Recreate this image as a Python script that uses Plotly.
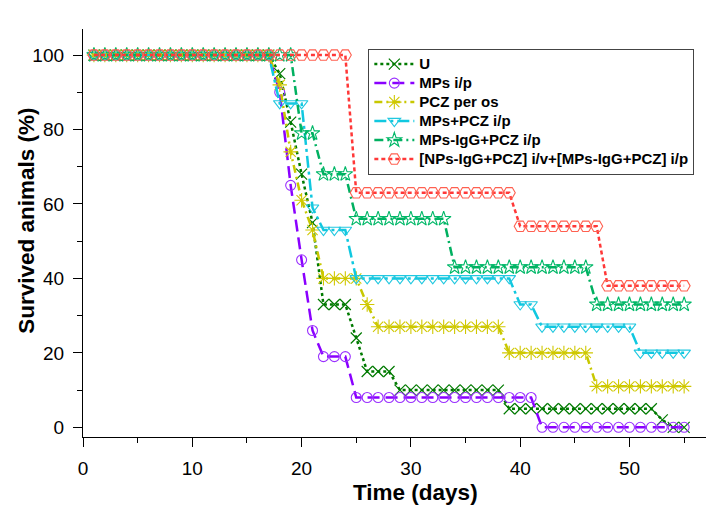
import plotly.graph_objects as go

days = list(range(1, 56))

u_vals = [100, 100, 100, 100, 100, 100, 100, 100, 100, 100, 100, 100, 100, 100, 100, 100, 100,
          95, 82, 68, 55, 33, 33, 33, 24, 15, 15, 15,
          10, 10, 10, 10, 10, 10, 10, 10, 10, 10,
          5, 5, 5, 5, 5, 5, 5, 5, 5, 5, 5, 5, 5, 5,
          2, 0, 0]
mps_vals = [100, 100, 100, 100, 100, 100, 100, 100, 100, 100, 100, 100, 100, 100, 100, 100, 100,
            90, 65, 45, 26, 19, 19, 19,
            8, 8, 8, 8, 8, 8, 8, 8, 8, 8, 8, 8, 8, 8, 8, 8, 8,
            0, 0, 0, 0, 0, 0, 0, 0, 0, 0, 0, 0, 0, 0]
pcz_vals = [100, 100, 100, 100, 100, 100, 100, 100, 100, 100, 100, 100, 100, 100, 100, 100, 100,
            92, 74, 61, 53, 40, 40, 40, 40, 33,
            27, 27, 27, 27, 27, 27, 27, 27, 27, 27, 27, 27,
            20, 20, 20, 20, 20, 20, 20, 20,
            11, 11, 11, 11, 11, 11, 11, 11, 11]
mps_pcz_vals = [100, 100, 100, 100, 100, 100, 100, 100, 100, 100, 100, 100, 100, 100, 100, 100, 100,
                87, 87, 87, 59, 53, 53, 53,
                40, 40, 40, 40, 40, 40, 40, 40, 40, 40, 40, 40, 40, 40, 40,
                33, 33,
                27, 27, 27, 27, 27, 27, 27, 27, 27,
                20, 20, 20, 20, 20]
mps_igg_vals = [100, 100, 100, 100, 100, 100, 100, 100, 100, 100, 100, 100, 100, 100, 100, 100, 100, 100, 100,
                79, 79, 68, 68, 68,
                56, 56, 56, 56, 56, 56, 56, 56, 56,
                43, 43, 43, 43, 43, 43, 43, 43, 43, 43, 43, 43, 43,
                33, 33, 33, 33, 33, 33, 33, 33, 33]
nps_vals = [100, 100, 100, 100, 100, 100, 100, 100, 100, 100, 100, 100, 100, 100, 100, 100, 100, 100, 100, 100, 100, 100, 100, 100,
            63, 63, 63, 63, 63, 63, 63, 63, 63, 63, 63, 63, 63, 63, 63,
            54, 54, 54, 54, 54, 54, 54, 54,
            38, 38, 38, 38, 38, 38, 38, 38]

series_names = ["U", "MPs i/p", "PCZ per os", "MPs+PCZ i/p", "MPs-IgG+PCZ i/p",
                "[NPs-IgG+PCZ] i/v+[MPs-IgG+PCZ] i/p"]
x_title = "Time (days)"
y_title = "Survived animals (%)"

styles = [
    dict(values=u_vals, line="#007a00", marker="#007a00", dash="dot", lw=2.5,
         symbol="x-thin-open", size=11, mlw=1.2),
    dict(values=mps_vals, line="#8a00ff", marker="#9a30ff", dash="12px,6px", lw=2.5,
         symbol="circle-open", size=10, mlw=1.1),
    dict(values=pcz_vals, line="#c8c800", marker="#d0c800", dash="8px,4px,2px,4px", lw=2.5,
         symbol="asterisk-open", size=12, mlw=1.1),
    dict(values=mps_pcz_vals, line="#10c8e0", marker="#20c8e0", dash="12px,4px,3px,4px", lw=2.5,
         symbol="triangle-down-open", size=11, mlw=1.1),
    dict(values=mps_igg_vals, line="#00b060", marker="#00b868", dash="9px,4px,2px,4px", lw=2.5,
         symbol="star-open", size=11, mlw=1.1),
    dict(values=nps_vals, line="#ff3838", marker="#ff6050", dash="4px,3px", lw=2.5,
         symbol="hexagon2-open", size=12, mlw=1.1),
]

fig = go.Figure()
for name, st in zip(series_names, styles):
    fig.add_trace(go.Scatter(
        x=days, y=st["values"], mode="lines+markers",
        name="<span style='font-size:15px'>" + name + "</span>",
        line=dict(color=st["line"], width=st["lw"], dash=st["dash"]),
        marker=dict(symbol=st["symbol"], size=st["size"], color=st["marker"],
                    line=dict(color=st["marker"], width=st["mlw"])),
    ))

fam = "Liberation Sans, Arial, sans-serif"
axis_font = dict(family=fam, size=19, color="black")
title_font = dict(family=fam, size=22.5, color="black", weight="bold")

fig.update_layout(
    width=716, height=517,
    margin=dict(l=75, r=18, t=21, b=88),
    plot_bgcolor="white", paper_bgcolor="white",
    showlegend=True,
    legend=dict(
        x=0.458, y=0.952, xanchor="left", yanchor="top",
        bgcolor="white", bordercolor="#444444", borderwidth=1,
        itemwidth=40,
        font=dict(family=fam, size=12, color="black", weight="bold"),
    ),
    xaxis=dict(
        range=[0, 57], tickmode="linear", tick0=0, dtick=10, automargin=False,
        showgrid=False, zeroline=False, showline=True, linecolor="black", linewidth=1.3,
        ticks="outside", ticklen=9, tickwidth=1.3, tickcolor="black", ticklabelstandoff=5,
        minor=dict(ticks="outside", ticklen=5, tickwidth=1.3, tickcolor="black", dtick=5, tick0=0, showgrid=False),
        tickfont=axis_font,
    ),
    yaxis=dict(
        range=[-2.6, 107], tickmode="linear", tick0=0, dtick=20, automargin=False,
        showgrid=False, zeroline=False, showline=True, linecolor="black", linewidth=1.3,
        ticks="outside", ticklen=9, tickwidth=1.3, tickcolor="black", ticklabelstandoff=5,
        minor=dict(ticks="outside", ticklen=5, tickwidth=1.3, tickcolor="black", dtick=10, tick0=0, showgrid=False),
        tickfont=axis_font,
    ),
    annotations=[
        dict(text=x_title, xref="paper", yref="paper", x=0.533, y=-0.137,
             xanchor="center", yanchor="middle", showarrow=False, font=title_font),
        dict(text=y_title, xref="paper", yref="paper", x=-0.092, y=0.529, textangle=-90,
             xanchor="center", yanchor="middle", showarrow=False, font=title_font),
    ],
)

fig.write_html("out.html")
